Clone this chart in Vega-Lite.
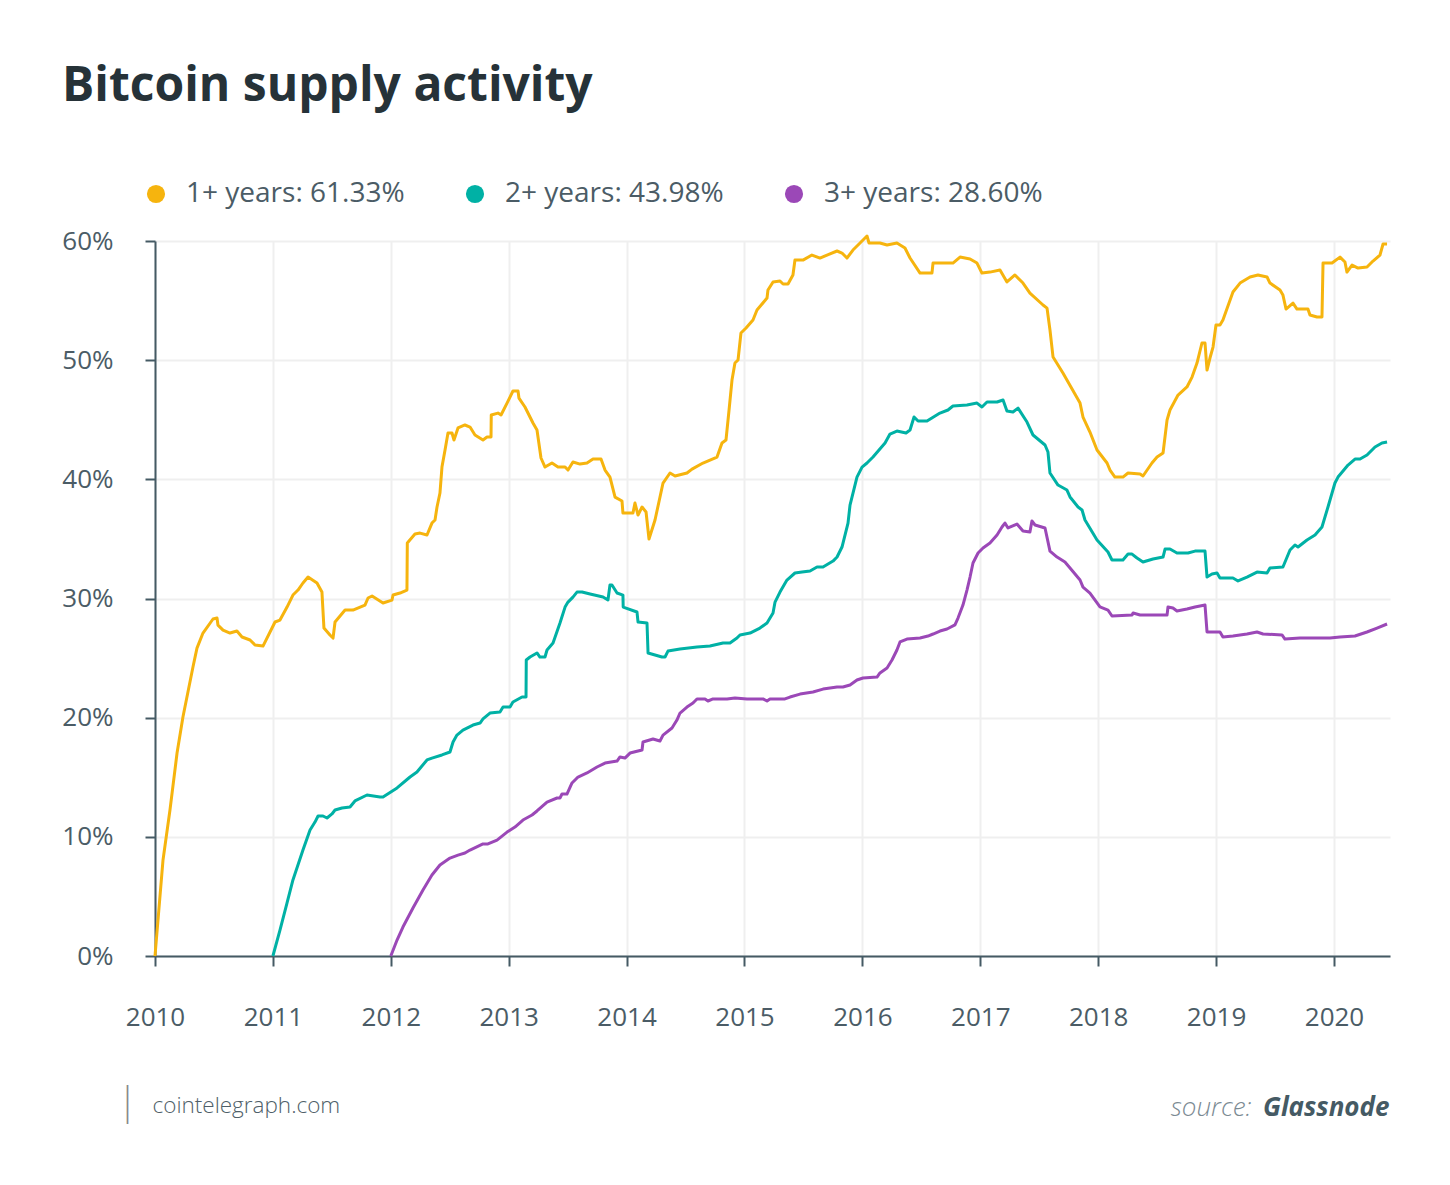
{
"$schema": "https://vega.github.io/schema/vega-lite/v6.json",
"width": 1235,
"height": 715,
"autosize": {"type": "none"},
"padding": {"left": 155, "top": 241, "right": 60, "bottom": 229},
"background": "white",
"config": {
  "font": "Open Sans",
  "view": {"stroke": null},
  "axis": {"domainColor": "#455a64", "domainWidth": 2, "tickColor": "#455a64", "tickWidth": 2, "gridColor": "#efefef", "gridWidth": 2, "labelFont": "Open Sans", "labelFontSize": 26, "labelColor": "#4b5c66", "titleFont": "Open Sans"}
},
"title": {"text": "Bitcoin supply activity", "anchor": "start", "frame": "group", "dx": -93, "offset": 31, "fontSize": 48, "fontWeight": "bold", "color": "#263238", "font": "Open Sans", "baseline": "alphabetic"},
"data": {"values": [
{"series":"1+ years: 61.33%","year":2010.000,"pct":0},{"series":"1+ years: 61.33%","year":2010.068,"pct":8.06},{"series":"1+ years: 61.33%","year":2010.127,"pct":12.25},{"series":"1+ years: 61.33%","year":2010.187,"pct":17.03},{"series":"1+ years: 61.33%","year":2010.237,"pct":20.05},{"series":"1+ years: 61.33%","year":2010.322,"pct":24.25},{"series":"1+ years: 61.33%","year":2010.356,"pct":25.84},{"series":"1+ years: 61.33%","year":2010.407,"pct":27.10},{"series":"1+ years: 61.33%","year":2010.492,"pct":28.28},{"series":"1+ years: 61.33%","year":2010.526,"pct":28.36},{"series":"1+ years: 61.33%","year":2010.534,"pct":27.77},{"series":"1+ years: 61.33%","year":2010.577,"pct":27.35},{"series":"1+ years: 61.33%","year":2010.636,"pct":27.10},{"series":"1+ years: 61.33%","year":2010.695,"pct":27.27},{"series":"1+ years: 61.33%","year":2010.738,"pct":26.77},{"series":"1+ years: 61.33%","year":2010.806,"pct":26.52},{"series":"1+ years: 61.33%","year":2010.848,"pct":26.10},{"series":"1+ years: 61.33%","year":2010.916,"pct":26.01},{"series":"1+ years: 61.33%","year":2011.018,"pct":28.03},{"series":"1+ years: 61.33%","year":2011.060,"pct":28.19},{"series":"1+ years: 61.33%","year":2011.120,"pct":29.28},{"series":"1+ years: 61.33%","year":2011.170,"pct":30.29},{"series":"1+ years: 61.33%","year":2011.213,"pct":30.71},{"series":"1+ years: 61.33%","year":2011.255,"pct":31.30},{"series":"1+ years: 61.33%","year":2011.298,"pct":31.80},{"series":"1+ years: 61.33%","year":2011.374,"pct":31.30},{"series":"1+ years: 61.33%","year":2011.416,"pct":30.54},{"series":"1+ years: 61.33%","year":2011.433,"pct":27.52},{"series":"1+ years: 61.33%","year":2011.484,"pct":26.94},{"series":"1+ years: 61.33%","year":2011.510,"pct":26.68},{"series":"1+ years: 61.33%","year":2011.527,"pct":28.03},{"series":"1+ years: 61.33%","year":2011.612,"pct":29.03},{"series":"1+ years: 61.33%","year":2011.679,"pct":29.03},{"series":"1+ years: 61.33%","year":2011.781,"pct":29.45},{"series":"1+ years: 61.33%","year":2011.807,"pct":30.04},{"series":"1+ years: 61.33%","year":2011.841,"pct":30.21},{"series":"1+ years: 61.33%","year":2011.934,"pct":29.62},{"series":"1+ years: 61.33%","year":2012.010,"pct":29.87},{"series":"1+ years: 61.33%","year":2012.019,"pct":30.29},{"series":"1+ years: 61.33%","year":2012.078,"pct":30.46},{"series":"1+ years: 61.33%","year":2012.137,"pct":30.71},{"series":"1+ years: 61.33%","year":2012.140,"pct":34.66},{"series":"1+ years: 61.33%","year":2012.205,"pct":35.41},{"series":"1+ years: 61.33%","year":2012.248,"pct":35.49},{"series":"1+ years: 61.33%","year":2012.307,"pct":35.33},{"series":"1+ years: 61.33%","year":2012.349,"pct":36.33},{"series":"1+ years: 61.33%","year":2012.375,"pct":36.59},{"series":"1+ years: 61.33%","year":2012.392,"pct":37.68},{"series":"1+ years: 61.33%","year":2012.417,"pct":38.85},{"series":"1+ years: 61.33%","year":2012.434,"pct":41.03},{"series":"1+ years: 61.33%","year":2012.460,"pct":42.46},{"series":"1+ years: 61.33%","year":2012.485,"pct":43.89},{"series":"1+ years: 61.33%","year":2012.519,"pct":43.89},{"series":"1+ years: 61.33%","year":2012.536,"pct":43.30},{"series":"1+ years: 61.33%","year":2012.570,"pct":44.31},{"series":"1+ years: 61.33%","year":2012.629,"pct":44.56},{"series":"1+ years: 61.33%","year":2012.672,"pct":44.39},{"series":"1+ years: 61.33%","year":2012.714,"pct":43.72},{"series":"1+ years: 61.33%","year":2012.782,"pct":43.30},{"series":"1+ years: 61.33%","year":2012.816,"pct":43.55},{"series":"1+ years: 61.33%","year":2012.850,"pct":43.55},{"series":"1+ years: 61.33%","year":2012.852,"pct":45.40},{"series":"1+ years: 61.33%","year":2012.909,"pct":45.56},{"series":"1+ years: 61.33%","year":2012.935,"pct":45.40},{"series":"1+ years: 61.33%","year":2012.986,"pct":46.40},{"series":"1+ years: 61.33%","year":2013.036,"pct":47.41},{"series":"1+ years: 61.33%","year":2013.079,"pct":47.41},{"series":"1+ years: 61.33%","year":2013.087,"pct":46.82},{"series":"1+ years: 61.33%","year":2013.138,"pct":46.07},{"series":"1+ years: 61.33%","year":2013.206,"pct":44.73},{"series":"1+ years: 61.33%","year":2013.240,"pct":44.14},{"series":"1+ years: 61.33%","year":2013.274,"pct":41.79},{"series":"1+ years: 61.33%","year":2013.308,"pct":41.03},{"series":"1+ years: 61.33%","year":2013.367,"pct":41.37},{"series":"1+ years: 61.33%","year":2013.418,"pct":41.03},{"series":"1+ years: 61.33%","year":2013.478,"pct":41.03},{"series":"1+ years: 61.33%","year":2013.503,"pct":40.78},{"series":"1+ years: 61.33%","year":2013.545,"pct":41.45},{"series":"1+ years: 61.33%","year":2013.605,"pct":41.28},{"series":"1+ years: 61.33%","year":2013.664,"pct":41.37},{"series":"1+ years: 61.33%","year":2013.715,"pct":41.70},{"series":"1+ years: 61.33%","year":2013.783,"pct":41.70},{"series":"1+ years: 61.33%","year":2013.817,"pct":40.78},{"series":"1+ years: 61.33%","year":2013.859,"pct":40.19},{"series":"1+ years: 61.33%","year":2013.902,"pct":38.51},{"series":"1+ years: 61.33%","year":2013.961,"pct":38.18},{"series":"1+ years: 61.33%","year":2013.969,"pct":37.17},{"series":"1+ years: 61.33%","year":2014.054,"pct":37.17},{"series":"1+ years: 61.33%","year":2014.071,"pct":38.01},{"series":"1+ years: 61.33%","year":2014.097,"pct":37.00},{"series":"1+ years: 61.33%","year":2014.131,"pct":37.68},{"series":"1+ years: 61.33%","year":2014.165,"pct":37.26},{"series":"1+ years: 61.33%","year":2014.190,"pct":34.99},{"series":"1+ years: 61.33%","year":2014.241,"pct":36.59},{"series":"1+ years: 61.33%","year":2014.309,"pct":39.69},{"series":"1+ years: 61.33%","year":2014.368,"pct":40.53},{"series":"1+ years: 61.33%","year":2014.411,"pct":40.28},{"series":"1+ years: 61.33%","year":2014.512,"pct":40.53},{"series":"1+ years: 61.33%","year":2014.555,"pct":40.86},{"series":"1+ years: 61.33%","year":2014.648,"pct":41.37},{"series":"1+ years: 61.33%","year":2014.767,"pct":41.87},{"series":"1+ years: 61.33%","year":2014.809,"pct":43.05},{"series":"1+ years: 61.33%","year":2014.843,"pct":43.30},{"series":"1+ years: 61.33%","year":2014.869,"pct":45.82},{"series":"1+ years: 61.33%","year":2014.894,"pct":48.33},{"series":"1+ years: 61.33%","year":2014.919,"pct":49.76},{"series":"1+ years: 61.33%","year":2014.945,"pct":50.01},{"series":"1+ years: 61.33%","year":2014.970,"pct":52.28},{"series":"1+ years: 61.33%","year":2015.013,"pct":52.70},{"series":"1+ years: 61.33%","year":2015.072,"pct":53.37},{"series":"1+ years: 61.33%","year":2015.106,"pct":54.21},{"series":"1+ years: 61.33%","year":2015.191,"pct":55.21},{"series":"1+ years: 61.33%","year":2015.199,"pct":55.89},{"series":"1+ years: 61.33%","year":2015.242,"pct":56.56},{"series":"1+ years: 61.33%","year":2015.301,"pct":56.64},{"series":"1+ years: 61.33%","year":2015.327,"pct":56.39},{"series":"1+ years: 61.33%","year":2015.369,"pct":56.39},{"series":"1+ years: 61.33%","year":2015.411,"pct":57.15},{"series":"1+ years: 61.33%","year":2015.428,"pct":58.40},{"series":"1+ years: 61.33%","year":2015.496,"pct":58.40},{"series":"1+ years: 61.33%","year":2015.572,"pct":58.82},{"series":"1+ years: 61.33%","year":2015.640,"pct":58.57},{"series":"1+ years: 61.33%","year":2015.700,"pct":58.82},{"series":"1+ years: 61.33%","year":2015.785,"pct":59.16},{"series":"1+ years: 61.33%","year":2015.827,"pct":58.99},{"series":"1+ years: 61.33%","year":2015.869,"pct":58.57},{"series":"1+ years: 61.33%","year":2015.920,"pct":59.24},{"series":"1+ years: 61.33%","year":2015.980,"pct":59.83},{"series":"1+ years: 61.33%","year":2016.039,"pct":60.42},{"series":"1+ years: 61.33%","year":2016.056,"pct":59.83},{"series":"1+ years: 61.33%","year":2016.149,"pct":59.83},{"series":"1+ years: 61.33%","year":2016.209,"pct":59.66},{"series":"1+ years: 61.33%","year":2016.293,"pct":59.83},{"series":"1+ years: 61.33%","year":2016.361,"pct":59.41},{"series":"1+ years: 61.33%","year":2016.404,"pct":58.57},{"series":"1+ years: 61.33%","year":2016.489,"pct":57.31},{"series":"1+ years: 61.33%","year":2016.590,"pct":57.31},{"series":"1+ years: 61.33%","year":2016.599,"pct":58.15},{"series":"1+ years: 61.33%","year":2016.718,"pct":58.15},{"series":"1+ years: 61.33%","year":2016.768,"pct":58.15},{"series":"1+ years: 61.33%","year":2016.828,"pct":58.65},{"series":"1+ years: 61.33%","year":2016.913,"pct":58.49},{"series":"1+ years: 61.33%","year":2016.972,"pct":58.15},{"series":"1+ years: 61.33%","year":2017.014,"pct":57.31},{"series":"1+ years: 61.33%","year":2017.082,"pct":57.39},{"series":"1+ years: 61.33%","year":2017.167,"pct":57.56},{"series":"1+ years: 61.33%","year":2017.226,"pct":56.56},{"series":"1+ years: 61.33%","year":2017.294,"pct":57.15},{"series":"1+ years: 61.33%","year":2017.362,"pct":56.47},{"series":"1+ years: 61.33%","year":2017.421,"pct":55.63},{"series":"1+ years: 61.33%","year":2017.532,"pct":54.63},{"series":"1+ years: 61.33%","year":2017.566,"pct":54.37},{"series":"1+ years: 61.33%","year":2017.591,"pct":52.53},{"series":"1+ years: 61.33%","year":2017.617,"pct":50.26},{"series":"1+ years: 61.33%","year":2017.701,"pct":48.92},{"series":"1+ years: 61.33%","year":2017.846,"pct":46.40},{"series":"1+ years: 61.33%","year":2017.871,"pct":45.23},{"series":"1+ years: 61.33%","year":2017.930,"pct":43.97},{"series":"1+ years: 61.33%","year":2017.990,"pct":42.46},{"series":"1+ years: 61.33%","year":2018.075,"pct":41.37},{"series":"1+ years: 61.33%","year":2018.100,"pct":40.78},{"series":"1+ years: 61.33%","year":2018.142,"pct":40.19},{"series":"1+ years: 61.33%","year":2018.210,"pct":40.19},{"series":"1+ years: 61.33%","year":2018.253,"pct":40.53},{"series":"1+ years: 61.33%","year":2018.355,"pct":40.45},{"series":"1+ years: 61.33%","year":2018.380,"pct":40.28},{"series":"1+ years: 61.33%","year":2018.456,"pct":41.37},{"series":"1+ years: 61.33%","year":2018.499,"pct":41.87},{"series":"1+ years: 61.33%","year":2018.550,"pct":42.21},{"series":"1+ years: 61.33%","year":2018.584,"pct":44.98},{"series":"1+ years: 61.33%","year":2018.609,"pct":45.82},{"series":"1+ years: 61.33%","year":2018.677,"pct":47.07},{"series":"1+ years: 61.33%","year":2018.753,"pct":47.75},{"series":"1+ years: 61.33%","year":2018.796,"pct":48.58},{"series":"1+ years: 61.33%","year":2018.838,"pct":49.76},{"series":"1+ years: 61.33%","year":2018.880,"pct":51.44},{"series":"1+ years: 61.33%","year":2018.906,"pct":51.44},{"series":"1+ years: 61.33%","year":2018.923,"pct":49.17},{"series":"1+ years: 61.33%","year":2018.948,"pct":50.18},{"series":"1+ years: 61.33%","year":2018.974,"pct":51.10},{"series":"1+ years: 61.33%","year":2018.999,"pct":52.95},{"series":"1+ years: 61.33%","year":2019.033,"pct":52.95},{"series":"1+ years: 61.33%","year":2019.058,"pct":53.37},{"series":"1+ years: 61.33%","year":2019.143,"pct":55.72},{"series":"1+ years: 61.33%","year":2019.203,"pct":56.47},{"series":"1+ years: 61.33%","year":2019.288,"pct":56.98},{"series":"1+ years: 61.33%","year":2019.355,"pct":57.15},{"series":"1+ years: 61.33%","year":2019.432,"pct":56.98},{"series":"1+ years: 61.33%","year":2019.457,"pct":56.47},{"series":"1+ years: 61.33%","year":2019.542,"pct":55.89},{"series":"1+ years: 61.33%","year":2019.567,"pct":55.46},{"series":"1+ years: 61.33%","year":2019.593,"pct":54.29},{"series":"1+ years: 61.33%","year":2019.652,"pct":54.79},{"series":"1+ years: 61.33%","year":2019.686,"pct":54.29},{"series":"1+ years: 61.33%","year":2019.779,"pct":54.29},{"series":"1+ years: 61.33%","year":2019.796,"pct":53.79},{"series":"1+ years: 61.33%","year":2019.856,"pct":53.62},{"series":"1+ years: 61.33%","year":2019.898,"pct":53.62},{"series":"1+ years: 61.33%","year":2019.907,"pct":58.15},{"series":"1+ years: 61.33%","year":2019.983,"pct":58.15},{"series":"1+ years: 61.33%","year":2020.051,"pct":58.65},{"series":"1+ years: 61.33%","year":2020.093,"pct":58.24},{"series":"1+ years: 61.33%","year":2020.110,"pct":57.39},{"series":"1+ years: 61.33%","year":2020.153,"pct":57.98},{"series":"1+ years: 61.33%","year":2020.204,"pct":57.73},{"series":"1+ years: 61.33%","year":2020.280,"pct":57.82},{"series":"1+ years: 61.33%","year":2020.331,"pct":58.32},{"series":"1+ years: 61.33%","year":2020.390,"pct":58.82},{"series":"1+ years: 61.33%","year":2020.416,"pct":59.75},{"series":"1+ years: 61.33%","year":2020.450,"pct":59.75},
{"series":"2+ years: 43.98%","year":2011.000,"pct":0},{"series":"2+ years: 43.98%","year":2011.060,"pct":2.18},{"series":"2+ years: 43.98%","year":2011.120,"pct":4.45},{"series":"2+ years: 43.98%","year":2011.170,"pct":6.38},{"series":"2+ years: 43.98%","year":2011.255,"pct":8.89},{"series":"2+ years: 43.98%","year":2011.315,"pct":10.57},{"series":"2+ years: 43.98%","year":2011.357,"pct":11.24},{"series":"2+ years: 43.98%","year":2011.383,"pct":11.75},{"series":"2+ years: 43.98%","year":2011.425,"pct":11.75},{"series":"2+ years: 43.98%","year":2011.459,"pct":11.58},{"series":"2+ years: 43.98%","year":2011.501,"pct":11.92},{"series":"2+ years: 43.98%","year":2011.527,"pct":12.25},{"series":"2+ years: 43.98%","year":2011.586,"pct":12.42},{"series":"2+ years: 43.98%","year":2011.654,"pct":12.50},{"series":"2+ years: 43.98%","year":2011.696,"pct":13.01},{"series":"2+ years: 43.98%","year":2011.798,"pct":13.51},{"series":"2+ years: 43.98%","year":2011.908,"pct":13.34},{"series":"2+ years: 43.98%","year":2011.934,"pct":13.34},{"series":"2+ years: 43.98%","year":2012.053,"pct":14.10},{"series":"2+ years: 43.98%","year":2012.163,"pct":15.02},{"series":"2+ years: 43.98%","year":2012.222,"pct":15.44},{"series":"2+ years: 43.98%","year":2012.307,"pct":16.45},{"series":"2+ years: 43.98%","year":2012.349,"pct":16.61},{"series":"2+ years: 43.98%","year":2012.434,"pct":16.87},{"series":"2+ years: 43.98%","year":2012.502,"pct":17.12},{"series":"2+ years: 43.98%","year":2012.528,"pct":17.96},{"series":"2+ years: 43.98%","year":2012.561,"pct":18.54},{"series":"2+ years: 43.98%","year":2012.612,"pct":18.96},{"series":"2+ years: 43.98%","year":2012.697,"pct":19.38},{"series":"2+ years: 43.98%","year":2012.757,"pct":19.55},{"series":"2+ years: 43.98%","year":2012.782,"pct":19.89},{"series":"2+ years: 43.98%","year":2012.841,"pct":20.39},{"series":"2+ years: 43.98%","year":2012.926,"pct":20.47},{"series":"2+ years: 43.98%","year":2012.952,"pct":20.89},{"series":"2+ years: 43.98%","year":2013.011,"pct":20.89},{"series":"2+ years: 43.98%","year":2013.036,"pct":21.31},{"series":"2+ years: 43.98%","year":2013.113,"pct":21.73},{"series":"2+ years: 43.98%","year":2013.147,"pct":21.73},{"series":"2+ years: 43.98%","year":2013.149,"pct":24.84},{"series":"2+ years: 43.98%","year":2013.181,"pct":25.09},{"series":"2+ years: 43.98%","year":2013.240,"pct":25.43},{"series":"2+ years: 43.98%","year":2013.265,"pct":25.09},{"series":"2+ years: 43.98%","year":2013.308,"pct":25.09},{"series":"2+ years: 43.98%","year":2013.325,"pct":25.68},{"series":"2+ years: 43.98%","year":2013.376,"pct":26.26},{"series":"2+ years: 43.98%","year":2013.435,"pct":27.94},{"series":"2+ years: 43.98%","year":2013.478,"pct":29.28},{"series":"2+ years: 43.98%","year":2013.503,"pct":29.70},{"series":"2+ years: 43.98%","year":2013.545,"pct":30.12},{"series":"2+ years: 43.98%","year":2013.579,"pct":30.54},{"series":"2+ years: 43.98%","year":2013.622,"pct":30.54},{"series":"2+ years: 43.98%","year":2013.690,"pct":30.38},{"series":"2+ years: 43.98%","year":2013.800,"pct":30.12},{"series":"2+ years: 43.98%","year":2013.842,"pct":29.87},{"series":"2+ years: 43.98%","year":2013.859,"pct":31.13},{"series":"2+ years: 43.98%","year":2013.876,"pct":31.13},{"series":"2+ years: 43.98%","year":2013.919,"pct":30.46},{"series":"2+ years: 43.98%","year":2013.969,"pct":30.29},{"series":"2+ years: 43.98%","year":2013.971,"pct":29.28},{"series":"2+ years: 43.98%","year":2014.088,"pct":28.87},{"series":"2+ years: 43.98%","year":2014.097,"pct":28.03},{"series":"2+ years: 43.98%","year":2014.173,"pct":27.94},{"series":"2+ years: 43.98%","year":2014.182,"pct":25.43},{"series":"2+ years: 43.98%","year":2014.300,"pct":25.09},{"series":"2+ years: 43.98%","year":2014.326,"pct":25.09},{"series":"2+ years: 43.98%","year":2014.351,"pct":25.59},{"series":"2+ years: 43.98%","year":2014.453,"pct":25.76},{"series":"2+ years: 43.98%","year":2014.597,"pct":25.93},{"series":"2+ years: 43.98%","year":2014.707,"pct":26.01},{"series":"2+ years: 43.98%","year":2014.818,"pct":26.26},{"series":"2+ years: 43.98%","year":2014.877,"pct":26.26},{"series":"2+ years: 43.98%","year":2014.936,"pct":26.68},{"series":"2+ years: 43.98%","year":2014.962,"pct":26.94},{"series":"2+ years: 43.98%","year":2015.047,"pct":27.10},{"series":"2+ years: 43.98%","year":2015.131,"pct":27.52},{"series":"2+ years: 43.98%","year":2015.191,"pct":27.94},{"series":"2+ years: 43.98%","year":2015.242,"pct":28.78},{"series":"2+ years: 43.98%","year":2015.259,"pct":29.70},{"series":"2+ years: 43.98%","year":2015.301,"pct":30.54},{"series":"2+ years: 43.98%","year":2015.360,"pct":31.55},{"series":"2+ years: 43.98%","year":2015.428,"pct":32.14},{"series":"2+ years: 43.98%","year":2015.488,"pct":32.22},{"series":"2+ years: 43.98%","year":2015.556,"pct":32.31},{"series":"2+ years: 43.98%","year":2015.615,"pct":32.64},{"series":"2+ years: 43.98%","year":2015.666,"pct":32.64},{"series":"2+ years: 43.98%","year":2015.751,"pct":33.14},{"series":"2+ years: 43.98%","year":2015.785,"pct":33.48},{"series":"2+ years: 43.98%","year":2015.827,"pct":34.32},{"series":"2+ years: 43.98%","year":2015.878,"pct":36.33},{"series":"2+ years: 43.98%","year":2015.895,"pct":37.84},{"series":"2+ years: 43.98%","year":2015.954,"pct":40.19},{"series":"2+ years: 43.98%","year":2015.997,"pct":41.03},{"series":"2+ years: 43.98%","year":2016.039,"pct":41.37},{"series":"2+ years: 43.98%","year":2016.090,"pct":41.87},{"series":"2+ years: 43.98%","year":2016.192,"pct":43.05},{"series":"2+ years: 43.98%","year":2016.234,"pct":43.80},{"series":"2+ years: 43.98%","year":2016.293,"pct":44.05},{"series":"2+ years: 43.98%","year":2016.370,"pct":43.89},{"series":"2+ years: 43.98%","year":2016.404,"pct":44.14},{"series":"2+ years: 43.98%","year":2016.438,"pct":45.23},{"series":"2+ years: 43.98%","year":2016.472,"pct":44.89},{"series":"2+ years: 43.98%","year":2016.548,"pct":44.89},{"series":"2+ years: 43.98%","year":2016.658,"pct":45.56},{"series":"2+ years: 43.98%","year":2016.726,"pct":45.82},{"series":"2+ years: 43.98%","year":2016.768,"pct":46.15},{"series":"2+ years: 43.98%","year":2016.887,"pct":46.24},{"series":"2+ years: 43.98%","year":2016.972,"pct":46.40},{"series":"2+ years: 43.98%","year":2017.014,"pct":46.07},{"series":"2+ years: 43.98%","year":2017.057,"pct":46.49},{"series":"2+ years: 43.98%","year":2017.142,"pct":46.49},{"series":"2+ years: 43.98%","year":2017.193,"pct":46.66},{"series":"2+ years: 43.98%","year":2017.226,"pct":45.73},{"series":"2+ years: 43.98%","year":2017.277,"pct":45.65},{"series":"2+ years: 43.98%","year":2017.320,"pct":45.98},{"series":"2+ years: 43.98%","year":2017.396,"pct":44.81},{"series":"2+ years: 43.98%","year":2017.447,"pct":43.72},{"series":"2+ years: 43.98%","year":2017.549,"pct":42.88},{"series":"2+ years: 43.98%","year":2017.574,"pct":42.29},{"series":"2+ years: 43.98%","year":2017.591,"pct":40.53},{"series":"2+ years: 43.98%","year":2017.659,"pct":39.52},{"series":"2+ years: 43.98%","year":2017.735,"pct":39.10},{"series":"2+ years: 43.98%","year":2017.761,"pct":38.52},{"series":"2+ years: 43.98%","year":2017.829,"pct":37.68},{"series":"2+ years: 43.98%","year":2017.863,"pct":37.43},{"series":"2+ years: 43.98%","year":2017.888,"pct":36.59},{"series":"2+ years: 43.98%","year":2017.990,"pct":34.91},{"series":"2+ years: 43.98%","year":2018.083,"pct":33.90},{"series":"2+ years: 43.98%","year":2018.117,"pct":33.23},{"series":"2+ years: 43.98%","year":2018.210,"pct":33.23},{"series":"2+ years: 43.98%","year":2018.253,"pct":33.73},{"series":"2+ years: 43.98%","year":2018.287,"pct":33.73},{"series":"2+ years: 43.98%","year":2018.329,"pct":33.40},{"series":"2+ years: 43.98%","year":2018.380,"pct":33.06},{"series":"2+ years: 43.98%","year":2018.465,"pct":33.31},{"series":"2+ years: 43.98%","year":2018.550,"pct":33.48},{"series":"2+ years: 43.98%","year":2018.567,"pct":34.15},{"series":"2+ years: 43.98%","year":2018.609,"pct":34.15},{"series":"2+ years: 43.98%","year":2018.668,"pct":33.82},{"series":"2+ years: 43.98%","year":2018.762,"pct":33.82},{"series":"2+ years: 43.98%","year":2018.821,"pct":33.98},{"series":"2+ years: 43.98%","year":2018.906,"pct":33.98},{"series":"2+ years: 43.98%","year":2018.923,"pct":31.80},{"series":"2+ years: 43.98%","year":2018.965,"pct":32.05},{"series":"2+ years: 43.98%","year":2019.008,"pct":32.14},{"series":"2+ years: 43.98%","year":2019.033,"pct":31.72},{"series":"2+ years: 43.98%","year":2019.143,"pct":31.72},{"series":"2+ years: 43.98%","year":2019.186,"pct":31.47},{"series":"2+ years: 43.98%","year":2019.262,"pct":31.80},{"series":"2+ years: 43.98%","year":2019.347,"pct":32.22},{"series":"2+ years: 43.98%","year":2019.432,"pct":32.14},{"series":"2+ years: 43.98%","year":2019.457,"pct":32.56},{"series":"2+ years: 43.98%","year":2019.567,"pct":32.64},{"series":"2+ years: 43.98%","year":2019.627,"pct":34.07},{"series":"2+ years: 43.98%","year":2019.669,"pct":34.49},{"series":"2+ years: 43.98%","year":2019.695,"pct":34.32},{"series":"2+ years: 43.98%","year":2019.771,"pct":34.91},{"series":"2+ years: 43.98%","year":2019.839,"pct":35.33},{"series":"2+ years: 43.98%","year":2019.898,"pct":36.00},{"series":"2+ years: 43.98%","year":2019.949,"pct":37.68},{"series":"2+ years: 43.98%","year":2020.008,"pct":39.69},{"series":"2+ years: 43.98%","year":2020.034,"pct":40.19},{"series":"2+ years: 43.98%","year":2020.119,"pct":41.20},{"series":"2+ years: 43.98%","year":2020.178,"pct":41.70},{"series":"2+ years: 43.98%","year":2020.221,"pct":41.70},{"series":"2+ years: 43.98%","year":2020.280,"pct":42.04},{"series":"2+ years: 43.98%","year":2020.348,"pct":42.71},{"series":"2+ years: 43.98%","year":2020.407,"pct":43.05},{"series":"2+ years: 43.98%","year":2020.450,"pct":43.13},
{"series":"3+ years: 28.60%","year":2012.000,"pct":0},{"series":"3+ years: 28.60%","year":2012.053,"pct":1.34},{"series":"3+ years: 28.60%","year":2012.103,"pct":2.43},{"series":"3+ years: 28.60%","year":2012.188,"pct":4.03},{"series":"3+ years: 28.60%","year":2012.273,"pct":5.54},{"series":"3+ years: 28.60%","year":2012.349,"pct":6.80},{"series":"3+ years: 28.60%","year":2012.417,"pct":7.64},{"series":"3+ years: 28.60%","year":2012.502,"pct":8.22},{"series":"3+ years: 28.60%","year":2012.570,"pct":8.47},{"series":"3+ years: 28.60%","year":2012.629,"pct":8.64},{"series":"3+ years: 28.60%","year":2012.672,"pct":8.89},{"series":"3+ years: 28.60%","year":2012.782,"pct":9.40},{"series":"3+ years: 28.60%","year":2012.824,"pct":9.40},{"series":"3+ years: 28.60%","year":2012.901,"pct":9.73},{"series":"3+ years: 28.60%","year":2012.986,"pct":10.40},{"series":"3+ years: 28.60%","year":2013.053,"pct":10.82},{"series":"3+ years: 28.60%","year":2013.121,"pct":11.41},{"series":"3+ years: 28.60%","year":2013.198,"pct":11.83},{"series":"3+ years: 28.60%","year":2013.240,"pct":12.17},{"series":"3+ years: 28.60%","year":2013.325,"pct":12.92},{"series":"3+ years: 28.60%","year":2013.410,"pct":13.26},{"series":"3+ years: 28.60%","year":2013.435,"pct":13.26},{"series":"3+ years: 28.60%","year":2013.452,"pct":13.59},{"series":"3+ years: 28.60%","year":2013.494,"pct":13.59},{"series":"3+ years: 28.60%","year":2013.537,"pct":14.52},{"series":"3+ years: 28.60%","year":2013.588,"pct":15.02},{"series":"3+ years: 28.60%","year":2013.664,"pct":15.36},{"series":"3+ years: 28.60%","year":2013.749,"pct":15.86},{"series":"3+ years: 28.60%","year":2013.817,"pct":16.19},{"series":"3+ years: 28.60%","year":2013.919,"pct":16.36},{"series":"3+ years: 28.60%","year":2013.944,"pct":16.70},{"series":"3+ years: 28.60%","year":2013.986,"pct":16.61},{"series":"3+ years: 28.60%","year":2014.029,"pct":17.03},{"series":"3+ years: 28.60%","year":2014.131,"pct":17.29},{"series":"3+ years: 28.60%","year":2014.139,"pct":17.96},{"series":"3+ years: 28.60%","year":2014.224,"pct":18.21},{"series":"3+ years: 28.60%","year":2014.283,"pct":18.04},{"series":"3+ years: 28.60%","year":2014.309,"pct":18.54},{"series":"3+ years: 28.60%","year":2014.385,"pct":19.13},{"series":"3+ years: 28.60%","year":2014.427,"pct":19.80},{"series":"3+ years: 28.60%","year":2014.453,"pct":20.39},{"series":"3+ years: 28.60%","year":2014.512,"pct":20.89},{"series":"3+ years: 28.60%","year":2014.563,"pct":21.23},{"series":"3+ years: 28.60%","year":2014.597,"pct":21.57},{"series":"3+ years: 28.60%","year":2014.665,"pct":21.57},{"series":"3+ years: 28.60%","year":2014.690,"pct":21.40},{"series":"3+ years: 28.60%","year":2014.733,"pct":21.57},{"series":"3+ years: 28.60%","year":2014.852,"pct":21.57},{"series":"3+ years: 28.60%","year":2014.919,"pct":21.65},{"series":"3+ years: 28.60%","year":2015.021,"pct":21.57},{"series":"3+ years: 28.60%","year":2015.157,"pct":21.57},{"series":"3+ years: 28.60%","year":2015.191,"pct":21.40},{"series":"3+ years: 28.60%","year":2015.216,"pct":21.57},{"series":"3+ years: 28.60%","year":2015.343,"pct":21.57},{"series":"3+ years: 28.60%","year":2015.386,"pct":21.73},{"series":"3+ years: 28.60%","year":2015.471,"pct":21.98},{"series":"3+ years: 28.60%","year":2015.581,"pct":22.15},{"series":"3+ years: 28.60%","year":2015.666,"pct":22.40},{"series":"3+ years: 28.60%","year":2015.785,"pct":22.57},{"series":"3+ years: 28.60%","year":2015.835,"pct":22.57},{"series":"3+ years: 28.60%","year":2015.895,"pct":22.74},{"series":"3+ years: 28.60%","year":2015.954,"pct":23.16},{"series":"3+ years: 28.60%","year":2016.005,"pct":23.33},{"series":"3+ years: 28.60%","year":2016.124,"pct":23.41},{"series":"3+ years: 28.60%","year":2016.149,"pct":23.75},{"series":"3+ years: 28.60%","year":2016.209,"pct":24.17},{"series":"3+ years: 28.60%","year":2016.251,"pct":24.84},{"series":"3+ years: 28.60%","year":2016.293,"pct":25.68},{"series":"3+ years: 28.60%","year":2016.319,"pct":26.35},{"series":"3+ years: 28.60%","year":2016.378,"pct":26.60},{"series":"3+ years: 28.60%","year":2016.489,"pct":26.68},{"series":"3+ years: 28.60%","year":2016.556,"pct":26.85},{"series":"3+ years: 28.60%","year":2016.599,"pct":27.02},{"series":"3+ years: 28.60%","year":2016.658,"pct":27.27},{"series":"3+ years: 28.60%","year":2016.718,"pct":27.44},{"series":"3+ years: 28.60%","year":2016.785,"pct":27.78},{"series":"3+ years: 28.60%","year":2016.811,"pct":28.36},{"series":"3+ years: 28.60%","year":2016.853,"pct":29.45},{"series":"3+ years: 28.60%","year":2016.887,"pct":30.71},{"series":"3+ years: 28.60%","year":2016.913,"pct":31.80},{"series":"3+ years: 28.60%","year":2016.938,"pct":32.98},{"series":"3+ years: 28.60%","year":2016.981,"pct":33.82},{"series":"3+ years: 28.60%","year":2017.023,"pct":34.24},{"series":"3+ years: 28.60%","year":2017.082,"pct":34.66},{"series":"3+ years: 28.60%","year":2017.142,"pct":35.33},{"series":"3+ years: 28.60%","year":2017.184,"pct":36.00},{"series":"3+ years: 28.60%","year":2017.209,"pct":36.33},{"series":"3+ years: 28.60%","year":2017.235,"pct":35.92},{"series":"3+ years: 28.60%","year":2017.311,"pct":36.25},{"series":"3+ years: 28.60%","year":2017.362,"pct":35.66},{"series":"3+ years: 28.60%","year":2017.421,"pct":35.58},{"series":"3+ years: 28.60%","year":2017.438,"pct":36.50},{"series":"3+ years: 28.60%","year":2017.464,"pct":36.17},{"series":"3+ years: 28.60%","year":2017.549,"pct":35.92},{"series":"3+ years: 28.60%","year":2017.591,"pct":33.98},{"series":"3+ years: 28.60%","year":2017.651,"pct":33.48},{"series":"3+ years: 28.60%","year":2017.718,"pct":33.06},{"series":"3+ years: 28.60%","year":2017.761,"pct":32.56},{"series":"3+ years: 28.60%","year":2017.846,"pct":31.55},{"series":"3+ years: 28.60%","year":2017.871,"pct":30.96},{"series":"3+ years: 28.60%","year":2017.930,"pct":30.46},{"series":"3+ years: 28.60%","year":2018.015,"pct":29.29},{"series":"3+ years: 28.60%","year":2018.083,"pct":29.03},{"series":"3+ years: 28.60%","year":2018.117,"pct":28.53},{"series":"3+ years: 28.60%","year":2018.287,"pct":28.61},{"series":"3+ years: 28.60%","year":2018.296,"pct":28.78},{"series":"3+ years: 28.60%","year":2018.355,"pct":28.61},{"series":"3+ years: 28.60%","year":2018.584,"pct":28.61},{"series":"3+ years: 28.60%","year":2018.592,"pct":29.29},{"series":"3+ years: 28.60%","year":2018.634,"pct":29.20},{"series":"3+ years: 28.60%","year":2018.668,"pct":28.95},{"series":"3+ years: 28.60%","year":2018.753,"pct":29.12},{"series":"3+ years: 28.60%","year":2018.821,"pct":29.29},{"series":"3+ years: 28.60%","year":2018.906,"pct":29.45},{"series":"3+ years: 28.60%","year":2018.923,"pct":27.19},{"series":"3+ years: 28.60%","year":2019.033,"pct":27.19},{"series":"3+ years: 28.60%","year":2019.058,"pct":26.77},{"series":"3+ years: 28.60%","year":2019.143,"pct":26.85},{"series":"3+ years: 28.60%","year":2019.262,"pct":27.02},{"series":"3+ years: 28.60%","year":2019.347,"pct":27.19},{"series":"3+ years: 28.60%","year":2019.398,"pct":27.02},{"series":"3+ years: 28.60%","year":2019.559,"pct":26.94},{"series":"3+ years: 28.60%","year":2019.584,"pct":26.60},{"series":"3+ years: 28.60%","year":2019.712,"pct":26.68},{"series":"3+ years: 28.60%","year":2019.966,"pct":26.68},{"series":"3+ years: 28.60%","year":2020.051,"pct":26.77},{"series":"3+ years: 28.60%","year":2020.178,"pct":26.85},{"series":"3+ years: 28.60%","year":2020.280,"pct":27.19},{"series":"3+ years: 28.60%","year":2020.365,"pct":27.52},{"series":"3+ years: 28.60%","year":2020.450,"pct":27.86}
]},
"resolve": {"scale": {"x": "independent", "y": "independent"}},
"layer": [
  {
    "mark": {"type": "line", "strokeWidth": 3, "strokeJoin": "round"},
    "encoding": {
      "x": {"field": "year", "type": "quantitative",
        "scale": {"domain": [2010, 2020.475], "nice": false, "zero": false},
        "axis": {"values": [2010,2011,2012,2013,2014,2015,2016,2017,2018,2019,2020], "format": "d", "grid": true, "tickSize": 10, "labelPadding": 38, "labelFlush": false, "labelOverlap": false,
          "title": "cointelegraph.com", "titleX": -3, "titleY": 156, "titleAlign": "left", "titleBaseline": "alphabetic", "titleFontSize": 22.5, "titleFontWeight": 300, "titleColor": "#4f5f69"}},
      "y": {"field": "pct", "type": "quantitative",
        "scale": {"domain": [0, 60], "nice": false},
        "axis": {"values": [0,10,20,30,40,50,60], "labelExpr": "datum.value + '%'", "grid": true, "tickSize": 10, "labelPadding": 32,
          "title": "source:", "titleAngle": 0, "titleX": 1096, "titleY": 874, "titleAlign": "right", "titleBaseline": "alphabetic", "titleFontStyle": "italic", "titleFontWeight": 300, "titleFontSize": 26, "titleColor": "#7b8a93"}},
      "color": {"field": "series", "type": "nominal",
        "scale": {"domain": ["1+ years: 61.33%", "2+ years: 43.98%", "3+ years: 28.60%"], "range": ["#F6B40E", "#00B1A5", "#9B48B7"]},
        "legend": {"orient": "none", "legendX": -13, "legendY": -61, "direction": "horizontal", "title": null,
          "symbolType": "circle", "symbolSize": 330, "symbolStrokeWidth": 0, "labelFontSize": 28, "labelFont": "Open Sans", "labelColor": "#4b5c66", "labelLimit": 400, "labelOffset": 16, "columnPadding": 56,
          "encode": {"symbols": {"update": {"fill": {"scale": "color", "field": "value"}, "fillOpacity": {"value": 1}, "opacity": {"value": 1}}}}}}
    }
  },
  {
    "mark": {"type": "line", "opacity": 0},
    "encoding": {
      "x": {"field": "year", "type": "quantitative",
        "scale": {"domain": [2010, 2020.475], "nice": false, "zero": false},
        "axis": {"orient": "top", "labels": false, "ticks": false, "domain": false, "grid": false,
          "title": "Glassnode", "titleX": 1234, "titleY": 874, "titleAlign": "right", "titleBaseline": "alphabetic", "titleFontStyle": "italic", "titleFontWeight": "bold", "titleFontSize": 26, "titleColor": "#455a64"}},
      "y": {"field": "pct", "type": "quantitative",
        "scale": {"domain": [0, 60], "nice": false},
        "axis": {"orient": "right", "labels": false, "ticks": false, "domain": false, "grid": false,
          "title": "|", "titleAngle": 0, "titleX": -1263, "titleY": 862, "titleAlign": "center", "titleBaseline": "middle", "titleFontSize": 38, "titleFontWeight": 300, "titleColor": "#8a8a8a"}}
    }
  }
]
}
